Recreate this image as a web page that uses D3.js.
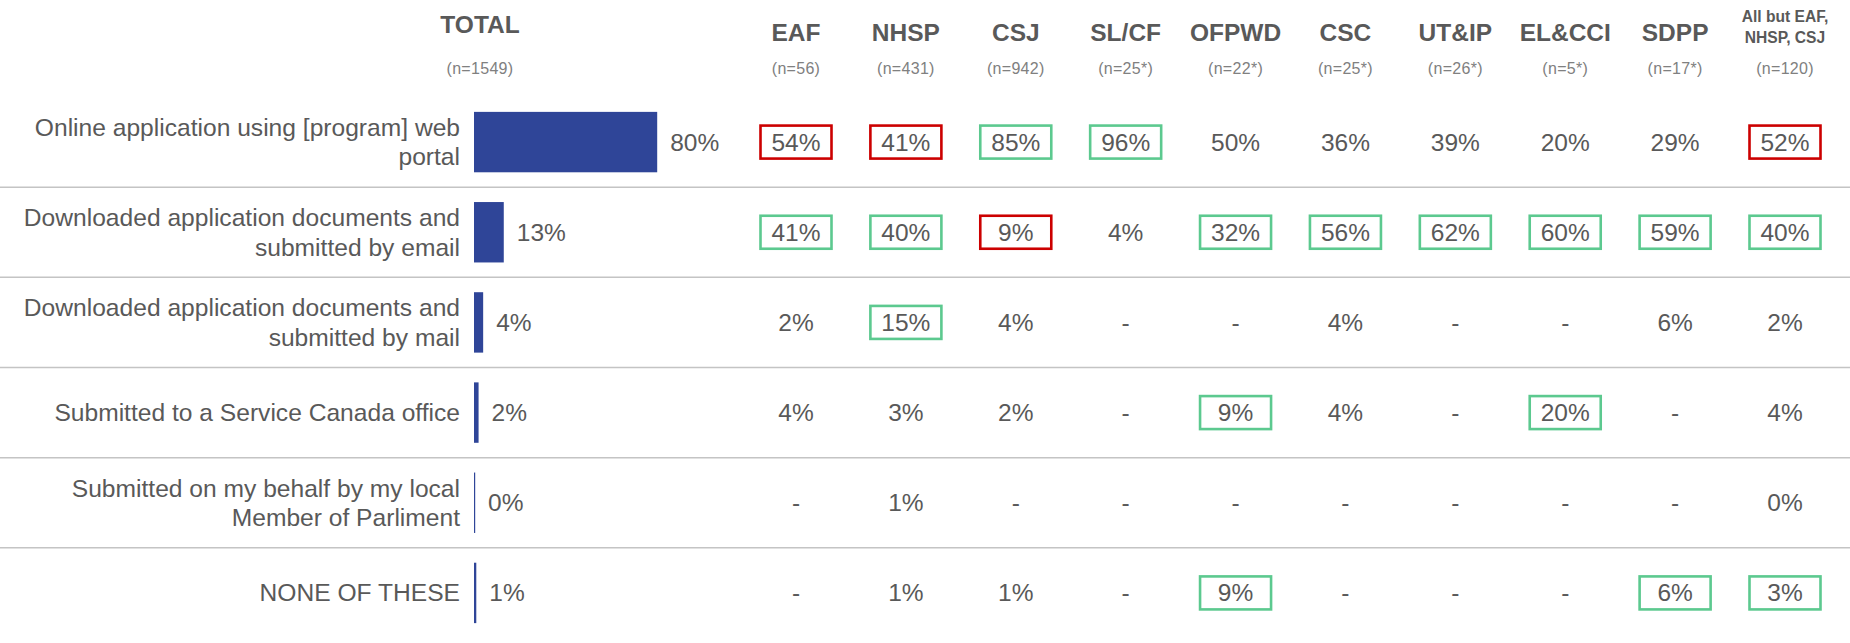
<!DOCTYPE html>
<html>
<head>
<meta charset="utf-8">
<script src="https://cdn.jsdelivr.net/npm/d3@7"></script>
<style>
    body { margin: 0; background: #fff; }
    svg { display: block; font-family: "Liberation Sans", Arial, sans-serif; }
</style>
</head>
<body>
<svg id="chart" width="1850" height="643"></svg>
<script>
// rows of the chart
let categories = [
    ["Online application using [program] web", "portal"],
    ["Downloaded application documents and", "submitted by email"],
    ["Downloaded application documents and", "submitted by mail"],
    ["Submitted to a Service Canada office"],
    ["Submitted on my behalf by my local", "Member of Parliment"],
    ["NONE OF THESE"]
];
let totals = [80, 13, 4, 2, 0, 1];

let groups = ["EAF", "NHSP", "CSJ", "SL/CF", "OFPWD", "CSC", "UT&IP", "EL&CCI", "SDPP", "All but EAF,|NHSP, CSJ"];
let groupN = ["(n=56)", "(n=431)", "(n=942)", "(n=25*)", "(n=22*)", "(n=25*)", "(n=26*)", "(n=5*)", "(n=17*)", "(n=120)"];

// null = "-"
let groupValues = [
    [54, 41, 85, 96, 50, 36, 39, 20, 29, 52],
    [41, 40, 9, 4, 32, 56, 62, 60, 59, 40],
    [2, 15, 4, null, null, 4, null, null, 6, 2],
    [4, 3, 2, null, 9, 4, null, 20, null, 4],
    [null, 1, null, null, null, null, null, null, null, 0],
    [null, 1, 1, null, 9, null, null, null, 6, 3]
];
// r = significantly lower, g = significantly higher
let flags = [
    ["r", "r", "g", "g", "", "", "", "", "", "r"],
    ["g", "g", "r", "", "g", "g", "g", "g", "g", "g"],
    ["", "g", "", "", "", "", "", "", "", ""],
    ["", "", "", "", "g", "", "", "g", "", ""],
    ["", "", "", "", "", "", "", "", "", ""],
    ["", "", "", "", "g", "", "", "", "g", "g"]
];

let svg = d3.select("#chart"),
    width = +svg.attr("width"),
    textColor = "#595959",
    barColor = "#2f4598",
    flagColor = {r: "#cc0000", g: "#5cc98f"};

let yScale = d3.scaleBand()
    .domain(d3.range(categories.length))
    .range([97, 638])
    .paddingInner(0.33)
    .paddingOuter(0.165);

let xScale = d3.scaleLinear()
    .domain([0, 100])
    .range([474, 474 + 229]);

let colScale = d3.scalePoint()
    .domain(d3.range(groups.length))
    .range([796, 1785]);

let rowCenter = i => yScale(i) + yScale.bandwidth() / 2;

// separators between rows
svg.append("g")
    .selectAll("line")
    .data(d3.range(1, categories.length))
    .enter()
    .append("line")
    .attr("x1", 0)
    .attr("x2", width)
    .attr("y1", d => yScale(d) - yScale.step() * yScale.paddingInner() / 2)
    .attr("y2", d => yScale(d) - yScale.step() * yScale.paddingInner() / 2)
    .attr("stroke", "#c4c4c4")
    .attr("stroke-width", 1.5);

// headers
svg.append("text")
    .attr("x", 480)
    .attr("y", 24)
    .attr("text-anchor", "middle")
    .attr("dominant-baseline", "central")
    .attr("font-size", 24.5)
    .attr("font-weight", "bold")
    .attr("fill", textColor)
    .text("TOTAL");

svg.append("text")
    .attr("x", 480)
    .attr("y", 68)
    .attr("text-anchor", "middle")
    .attr("dominant-baseline", "central")
    .attr("font-size", 16)
    .attr("letter-spacing", 0.3)
    .attr("fill", "#808080")
    .text("(n=1549)");

let head = svg.append("g")
    .selectAll("g")
    .data(groups)
    .enter()
    .append("g")
    .attr("transform", (d, i) => "translate(" + colScale(i) + ",0)");

head.each(function(d) {
    let lines = d.split("|"),
        g = d3.select(this);
    if(lines.length === 1) {
        g.append("text")
            .attr("y", 32)
            .attr("font-size", 24.5)
            .text(d);
    } else {
        g.selectAll("text")
            .data(lines)
            .enter()
            .append("text")
            .attr("y", (l, j) => 16 + j * 21)
            .attr("font-size", 15.6)
            .text(l => l);
    }
    g.selectAll("text")
        .attr("text-anchor", "middle")
        .attr("dominant-baseline", "central")
        .attr("font-weight", "bold")
        .attr("fill", textColor);
});

head.append("text")
    .attr("y", 68)
    .attr("text-anchor", "middle")
    .attr("dominant-baseline", "central")
    .attr("font-size", 16)
    .attr("letter-spacing", 0.3)
    .attr("fill", "#808080")
    .text((d, i) => groupN[i]);

// category labels
let labels = svg.append("g")
    .selectAll("text")
    .data(categories)
    .enter()
    .append("text")
    .attr("text-anchor", "end")
    .attr("font-size", 24.6)
    .attr("fill", textColor);

labels.selectAll("tspan")
    .data((d, i) => d.map((l, j) => ({text: l, y: rowCenter(i) + (j - (d.length - 1) / 2) * 29.5})))
    .enter()
    .append("tspan")
    .attr("x", 460)
    .attr("y", d => d.y)
    .attr("dominant-baseline", "central")
    .text(d => d.text);

// total bars
svg.append("g")
    .selectAll("rect")
    .data(totals)
    .enter()
    .append("rect")
    .attr("x", xScale(0))
    .attr("y", (d, i) => yScale(i))
    .attr("width", d => Math.max(xScale(d) - xScale(0), 1.2))
    .attr("height", yScale.bandwidth())
    .attr("fill", barColor);

svg.append("g")
    .selectAll("text")
    .data(totals)
    .enter()
    .append("text")
    .attr("x", d => Math.max(xScale(d), xScale(0) + 1) + 13)
    .attr("y", (d, i) => rowCenter(i))
    .attr("dominant-baseline", "central")
    .attr("font-size", 24.5)
    .attr("fill", textColor)
    .text(d => d + "%");

// subgroup cells
let cells = [];
groupValues.forEach((row, i) => {
    row.forEach((v, j) => cells.push({row: i, col: j, value: v, flag: flags[i][j]}));
});

let cell = svg.append("g")
    .selectAll("g")
    .data(cells)
    .enter()
    .append("g")
    .attr("transform", d => "translate(" + colScale(d.col) + "," + rowCenter(d.row) + ")");

cell.filter(d => d.flag)
    .append("rect")
    .attr("x", -35.5)
    .attr("y", -16.5)
    .attr("width", 71)
    .attr("height", 33)
    .attr("fill", "none")
    .attr("stroke", d => flagColor[d.flag])
    .attr("stroke-width", 2.6);

cell.append("text")
    .attr("text-anchor", "middle")
    .attr("dominant-baseline", "central")
    .attr("font-size", 24.5)
    .attr("fill", textColor)
    .text(d => d.value === null ? "-" : d.value + "%");
</script>
</body>
</html>
